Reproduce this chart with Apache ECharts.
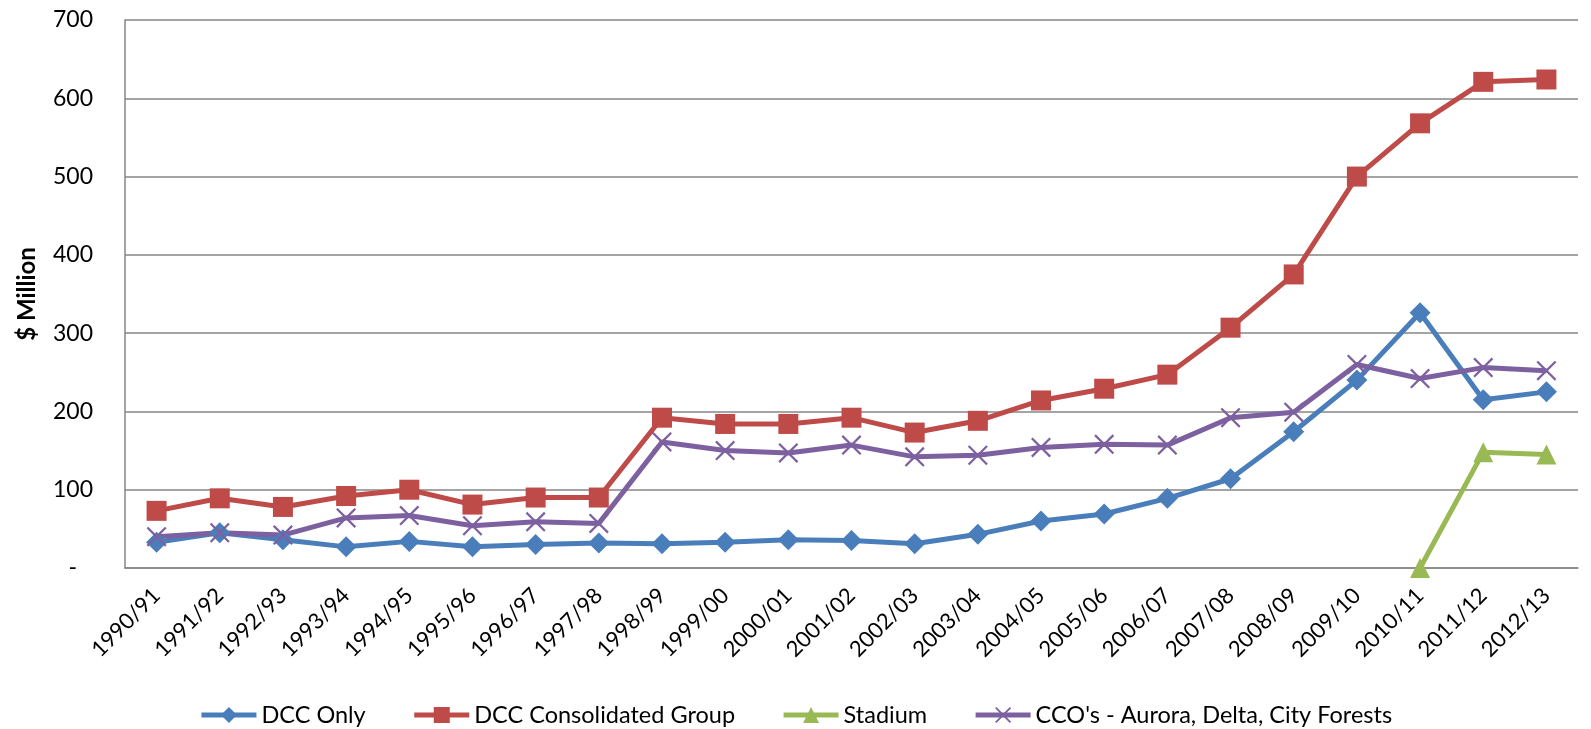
<!DOCTYPE html>
<html>
<head>
<meta charset="utf-8">
<script src="https://cdn.jsdelivr.net/npm/echarts@6/dist/echarts.min.js"></script>
<style>
  html, body { margin: 0; padding: 0; background: #fff; }
  #chart { width: 1591px; height: 729px; }
</style>
</head>
<body>
<div id="chart"></div>
<script>
// Financial years on the category axis
const years = ['1990/91','1991/92','1992/93','1993/94','1994/95','1995/96','1996/97','1997/98',
  '1998/99','1999/00','2000/01','2001/02','2002/03','2003/04','2004/05','2005/06','2006/07',
  '2007/08','2008/09','2009/10','2010/11','2011/12','2012/13'];

// Values in $ million
const dccOnly = [33, 45, 36, 27, 34, 27, 30, 32, 31, 33, 36, 35, 31, 43, 60, 69, 89, 114, 174, 240, 326, 215, 225];
const dccConsolidated = [73, 89, 78, 92, 100, 81, 90, 90, 192, 184, 184, 192, 173, 188, 214, 229, 247, 307, 375, 500, 568, 621, 624];
const stadium = [null, null, null, null, null, null, null, null, null, null, null, null, null, null, null, null, null, null, null, null, 0, 148, 145];
const ccos = [40, 45, 42, 64, 67, 54, 59, 57, 161, 150, 147, 157, 142, 144, 154, 158, 157, 192, 199, 260, 242, 256, 252];

const seriesNames = ['DCC Only', 'DCC Consolidated Group', 'Stadium', "CCO's - Aurora, Delta, City Forests"];
const yTicks = { min: 0, max: 700, step: 100 };

const FONT = 'Lato, "Open Sans", sans-serif';
// thin filled "x" marker
const crossPath = 'path://M0,0.8L0.8,0L5,4.2L9.2,0L10,0.8L5.8,5L10,9.2L9.2,10L5,5.8L0.8,10L0,9.2L4.2,5Z';

function lineSeries(name, data, color, symbol, size) {
  return {
    name: name,
    type: 'line',
    data: data,
    symbol: symbol,
    symbolSize: size,
    showAllSymbol: true,
    connectNulls: false,
    lineStyle: { color: color, width: 5 },
    itemStyle: { color: color },
    emphasis: { disabled: true },
    z: 3
  };
}

const chart = echarts.init(document.getElementById('chart'), null, { renderer: 'canvas' });
chart.setOption({
  animation: false,
  backgroundColor: '#ffffff',
  grid: { left: 125, right: 13, top: 20, bottom: 161, containLabel: false },
  legend: {
    top: 698,
    left: 'center',
    itemGap: 46,
    itemWidth: 55,
    itemHeight: 20,
    lineStyle: { width: 5 },
    textStyle: { fontFamily: FONT, fontSize: 23.5, color: '#000' },
    data: seriesNames
  },
  xAxis: {
    type: 'category',
    data: years,
    boundaryGap: true,
    axisLine: { show: true, lineStyle: { color: '#868686', width: 1.5 } },
    axisTick: { show: false },
    axisLabel: {
      rotate: 45,
      interval: 0,
      margin: 24,
      fontFamily: FONT,
      fontSize: 22,
      color: '#000'
    },
    splitLine: { show: false }
  },
  yAxis: {
    type: 'value',
    min: yTicks.min,
    max: yTicks.max,
    interval: yTicks.step,
    name: '$ Million',
    nameLocation: 'middle',
    nameGap: 86,
    nameRotate: 90,
    nameTextStyle: { fontFamily: FONT, fontSize: 24, fontWeight: 'bold', color: '#000' },
    axisLine: { show: true, lineStyle: { color: '#868686', width: 1.5 } },
    axisTick: { show: false },
    axisLabel: {
      margin: 32,
      fontFamily: FONT,
      fontSize: 23,
      color: '#000',
      formatter: v => (v === 0 ? '{z|-}' : String(v)),
      rich: { z: { fontFamily: FONT, fontSize: 23, color: '#000', padding: [0, 16, 0, 0] } }
    },
    splitLine: { show: true, lineStyle: { color: '#868686', width: 1.5 } }
  },
  series: [
    lineSeries(seriesNames[0], dccOnly, '#4A7EBB', 'diamond', 21),
    lineSeries(seriesNames[1], dccConsolidated, '#BE4B48', 'rect', 20),
    lineSeries(seriesNames[2], stadium, '#98B954', 'triangle', 20),
    lineSeries(seriesNames[3], ccos, '#7D60A0', crossPath, 20)
  ]
});
</script>
</body>
</html>
